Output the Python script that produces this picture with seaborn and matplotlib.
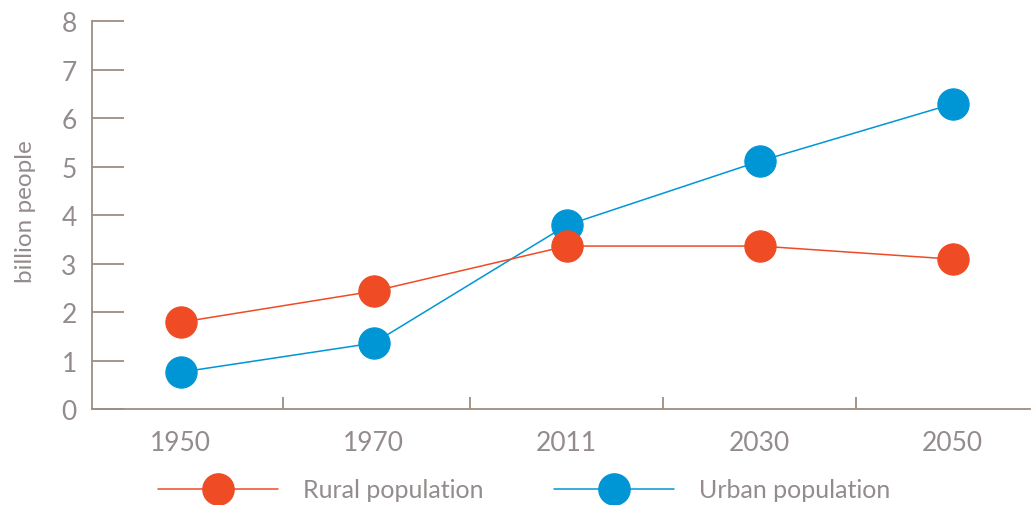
import matplotlib
matplotlib.use("Agg")
import matplotlib.pyplot as plt
import seaborn as sns
import pandas as pd
from matplotlib.lines import Line2D

years = ["1950", "1970", "2011", "2030", "2050"]
rural = [1.79, 2.43, 3.36, 3.36, 3.09]
urban = [0.76, 1.36, 3.79, 5.11, 6.29]
series_names = ["Rural population", "Urban population"]
y_ticks = [0, 1, 2, 3, 4, 5, 6, 7, 8]

RURAL_C = "#EF4B24"
URBAN_C = "#0096D6"
AXIS_C = "#9E8E82"
TEXT_C = "#948C8C"

sns.set_theme(style="white")
plt.rcParams["font.family"] = ["Lato", "DejaVu Sans"]
plt.rcParams["ytick.left"] = True
plt.rcParams["xtick.bottom"] = True

df_r = pd.DataFrame({"year": years, "value": rural})
df_u = pd.DataFrame({"year": years, "value": urban})

fig = plt.figure(figsize=(10.35, 5.06), dpi=100)
ax = fig.add_axes([0.0889, 0.1897, 0.9061, 0.7668])

ms = 22.5
sns.pointplot(data=df_u, x="year", y="value", color=URBAN_C, markers="o",
              markersize=ms, linewidth=1.1, ax=ax, errorbar=None)
sns.pointplot(data=df_r, x="year", y="value", color=RURAL_C, markers="o",
              markersize=ms, linewidth=1.1, ax=ax, errorbar=None)

ax.set_xlim(-0.46, 4.4)
ax.set_ylim(0, 8)
ax.set_yticks(y_ticks)
ax.set_xlabel("")
ax.set_ylabel("")
fig.text(25 / 1035, 1 - 212 / 506, "billion people", rotation=90, fontsize=17.5,
         color=TEXT_C, ha="center", va="center")

for s in ["top", "right"]:
    ax.spines[s].set_visible(False)
for s in ["left", "bottom"]:
    ax.spines[s].set_color(AXIS_C)
    ax.spines[s].set_linewidth(1.3)

ax.tick_params(axis="y", left=True, direction="in", length=23, width=1.3, color=AXIS_C,
               labelsize=19, labelcolor=TEXT_C, pad=11)
ax.tick_params(axis="x", which="major", bottom=False, labelsize=19, labelcolor=TEXT_C, pad=9)
ax.set_xticks([0.53, 1.5, 2.5, 3.5], minor=True)
ax.tick_params(axis="x", which="minor", bottom=True, direction="in", length=9, width=1.3, color=AXIS_C)

handles = [Line2D([0], [0], color=RURAL_C, lw=1.1, marker="o", markersize=ms),
           Line2D([0], [0], color=URBAN_C, lw=1.1, marker="o", markersize=ms)]
leg = fig.legend(handles, series_names, loc="center left", bbox_to_anchor=(0.153, 1 - 491 / 506),
                 ncol=2, frameon=False, handlelength=4.8, handletextpad=1.0,
                 columnspacing=2.8, prop={"size": 18}, borderpad=0, borderaxespad=0)
for t in leg.get_texts():
    t.set_color(TEXT_C)

fig.savefig("out.png", dpi=100)
